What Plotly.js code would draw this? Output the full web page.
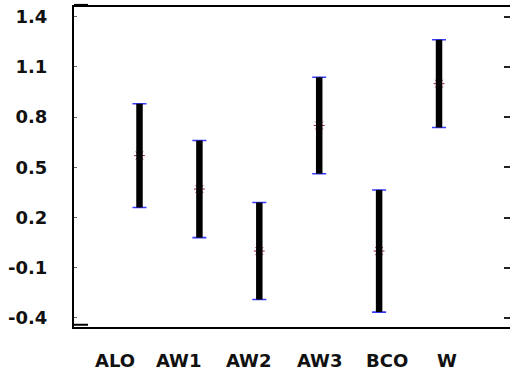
<!DOCTYPE html>
<html>
<head>
<meta charset="utf-8">
<script src="https://cdn.plot.ly/plotly-3.0.1.min.js"></script>
<style>html,body{margin:0;padding:0;background:#fff;}#chart{width:510px;height:379px;}</style>
</head>
<body>
<div id="chart"></div>
<script>
const categories = ["ALO", "AW1", "AW2", "AW3", "BCO", "W"];
const means = [0.57, 0.37, 0.00, 0.75, 0.00, 1.00];
const errors = [0.31, 0.29, 0.29, 0.288, 0.365, 0.262];
const yTickVals = [-0.4, -0.1, 0.2, 0.5, 0.8, 1.1, 1.4];
const yTickText = ["-0.4", "-0.1", "0.2", "0.5", "0.8", "1.1", "1.4"];
const labelShift = [-25, -20, -10, 1, 8, 8];

const xIdx = categories.map((c, i) => i);

const traces = [
  {x: xIdx, y: means, type: "scatter", mode: "markers", marker: {opacity: 0, size: 2},
   error_y: {type: "data", array: errors, visible: true, color: "#3a3aff", thickness: 1.6, width: 7},
   hoverinfo: "skip", showlegend: false},
  {x: xIdx, y: means, type: "scatter", mode: "markers",
   marker: {symbol: "asterisk-open", size: 9, color: "#a01e50", line: {color: "#a01e50", width: 1}},
   hoverinfo: "skip", showlegend: false},
  {x: xIdx, y: means, type: "scatter", mode: "markers", marker: {opacity: 0, size: 2},
   error_y: {type: "data", array: errors, visible: true, color: "#000", thickness: 6.5, width: 0},
   hoverinfo: "skip", showlegend: false},
  {x: xIdx, y: means, type: "scatter", mode: "markers", marker: {opacity: 0, size: 1},
   yaxis: "y2", hoverinfo: "skip", showlegend: false}
];

const yRange = [-0.454, 1.458];
const layout = {
  width: 510, height: 379,
  margin: {l: 74, r: 0, t: 7, b: 52, pad: 0},
  paper_bgcolor: "#fff", plot_bgcolor: "#fff",
  font: {family: "DejaVu Sans", size: 18, color: "#111"},
  showlegend: false,
  xaxis: {range: [-1.0935, 6.185], showgrid: false, zeroline: false,
          showline: true, mirror: true, linecolor: "#000", linewidth: 2,
          showticklabels: false, ticks: "", fixedrange: true},
  yaxis: {range: yRange, showgrid: false, zeroline: false,
          showline: true, linecolor: "#000", linewidth: 2,
          tickmode: "array", tickvals: yTickVals, ticktext: yTickText.map(t => "<b>" + t + "</b>"),
          ticks: "inside", ticklen: 3, tickwidth: 1, tickcolor: "#666",
          ticklabelstandoff: 21,
          tickfont: {family: "DejaVu Sans", size: 18, color: "#111"}},
  yaxis2: {range: yRange, overlaying: "y", side: "right", showgrid: false, zeroline: false,
           showline: false, tickmode: "array", tickvals: yTickVals,
           ticks: "inside", ticklen: 6, tickwidth: 2, tickcolor: "#222",
           showticklabels: false},
  annotations: categories.map((c, i) => ({
    x: i, xref: "x", y: -0.105, yref: "paper", text: "<b>" + c + "</b>",
    showarrow: false, xanchor: "center", yanchor: "middle", xshift: labelShift[i],
    font: {family: "DejaVu Sans", size: 18, color: "#111"}
  })),
  shapes: [
    {type: "line", xref: "paper", yref: "paper", x0: 0, x1: 14/436, y0: 1.005, y1: 1.005,
     line: {color: "#000", width: 3}},
    {type: "line", xref: "paper", yref: "paper", x0: 0, x1: 14/436, y0: 0.007, y1: 0.007,
     line: {color: "#000", width: 2}}
  ]
};

Plotly.newPlot("chart", traces, layout, {staticPlot: true, displayModeBar: false});
</script>
</body>
</html>
